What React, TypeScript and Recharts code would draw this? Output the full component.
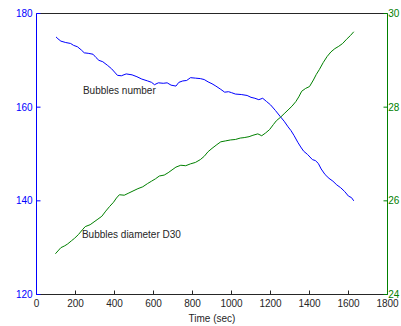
import React from "react"
import { LineChart, Line, XAxis, YAxis, ReferenceDot } from "recharts"

// time axis (sec) and the two measured series
const numberTime = [
  100, 110, 125, 150, 175, 190, 210, 230, 245, 265, 290, 305, 320, 340, 365, 385, 400, 415, 435, 460,
  490, 515, 540, 570, 590, 605, 625, 650, 670, 690, 715, 730, 750, 770, 790, 815, 840, 860, 880, 900,
  920, 945, 965, 985, 1000, 1020, 1050, 1080, 1100, 1120, 1140, 1160, 1180, 1200, 1225, 1250, 1270,
  1290, 1305, 1320, 1340, 1355, 1370, 1390, 1415, 1430, 1445, 1460, 1480, 1500, 1520, 1540, 1560,
  1580, 1600, 1615, 1627,
]
const numberValues = [
  175.0, 174.6, 174.1, 173.8, 173.6, 173.2, 172.9, 172.2, 171.6, 171.5, 171.3, 170.6, 170.0, 169.7,
  168.9, 168.2, 167.5, 166.8, 166.7, 167.1, 166.9, 166.5, 166.0, 165.6, 165.3, 164.8, 165.2, 165.1,
  165.2, 164.7, 164.5, 165.3, 165.6, 165.7, 166.3, 166.2, 166.1, 165.9, 165.4, 165.0, 164.5, 163.8,
  163.2, 163.3, 163.1, 162.8, 162.7, 162.5, 162.1, 161.9, 161.6, 161.9, 161.2, 160.5, 159.3, 158.0,
  157.0, 155.8, 155.0, 154.0, 152.5, 151.5, 150.6, 149.9, 148.8, 148.6, 148.0, 146.8, 145.6, 144.8,
  144.2, 143.4, 142.8, 142.0, 141.0, 140.7, 140.0,
]

const diameterTime = [
  97, 110, 125, 145, 160, 180, 195, 215, 235, 250, 275, 295, 315, 335, 355, 375, 395, 410, 425, 450,
  470, 495, 520, 545, 570, 590, 610, 630, 655, 675, 695, 715, 740, 765, 790, 815, 840, 860, 880, 900,
  925, 945, 970, 995, 1020, 1045, 1065, 1090, 1110, 1135, 1155, 1175, 1195, 1215, 1230, 1250, 1270,
  1290, 1310, 1330, 1345, 1360, 1380, 1400, 1420, 1435, 1450, 1470, 1490, 1510, 1530, 1550, 1570,
  1590, 1610, 1627,
]
const diameterValues = [
  24.87, 24.93, 25.0, 25.04, 25.08, 25.15, 25.2, 25.28, 25.38, 25.45, 25.49, 25.55, 25.61, 25.67,
  25.78, 25.88, 25.97, 26.06, 26.13, 26.12, 26.16, 26.21, 26.26, 26.3, 26.37, 26.42, 26.47, 26.53,
  26.55, 26.6, 26.66, 26.72, 26.76, 26.75, 26.79, 26.82, 26.88, 26.95, 27.05, 27.12, 27.2, 27.26,
  27.28, 27.3, 27.31, 27.34, 27.35, 27.37, 27.4, 27.43, 27.39, 27.45, 27.52, 27.63, 27.71, 27.78,
  27.86, 27.94, 28.02, 28.12, 28.22, 28.34, 28.4, 28.44, 28.58, 28.7, 28.8, 28.95, 29.08, 29.18,
  29.25, 29.3, 29.36, 29.45, 29.53, 29.61,
]

const timeTicks = [0, 200, 400, 600, 800, 1000, 1200, 1400, 1600, 1800]
const numberTicks = [120, 140, 160, 180]
const diameterTicks = [24, 26, 28, 30]

const numberData = numberTime.map((t, i) => ({ t, value: numberValues[i] }))
const diameterData = diameterTime.map((t, i) => ({ t, value: diameterValues[i] }))

const BLUE = "#0000ff"
const GREEN = "#008000"
const AXIS = "#262626"
const font = "'Liberation Sans', Arial, sans-serif"

export default function App() {
  return (
    <div style={{ position: "absolute", left: 0, top: 0, background: "#fff" }}>
      <LineChart
        width={401}
        height={326}
        margin={{ top: 0, right: 0, bottom: 0, left: 0 }}
        style={{ fontFamily: font }}
      >
        <XAxis
          xAxisId="bottom"
          dataKey="t"
          type="number"
          domain={[0, 1800]}
          ticks={timeTicks}
          interval={0}
          height={31.5}
          stroke={AXIS}
          tickSize={-4}
          tickMargin={9.3}
          tick={{ fill: AXIS, fontSize: 10 }}
          label={{ value: "Time (sec)", position: "insideBottom", offset: 4.5, fill: AXIS, fontSize: 10 }}
        />
        <XAxis
          xAxisId="top"
          orientation="top"
          dataKey="t"
          type="number"
          domain={[0, 1800]}
          ticks={timeTicks}
          interval={0}
          height={13.5}
          stroke={AXIS}
          tickSize={-4}
          tickFormatter={() => ""}
        />
        <YAxis
          yAxisId="left"
          type="number"
          domain={[120, 180]}
          ticks={numberTicks}
          interval={0}
          width={36.5}
          stroke={BLUE}
          tickSize={-4}
          tickMargin={7.8}
          tick={{ fill: BLUE, fontSize: 10 }}
        />
        <YAxis
          yAxisId="right"
          orientation="right"
          type="number"
          domain={[24, 30]}
          ticks={diameterTicks}
          interval={0}
          width={13.5}
          stroke={GREEN}
          tickSize={-4}
          tickMargin={4.8}
          tick={{ fill: GREEN, fontSize: 10 }}
        />
        <Line
          xAxisId="bottom"
          yAxisId="left"
          data={numberData}
          dataKey="value"
          type="linear"
          stroke={BLUE}
          strokeWidth={1}
          dot={false}
          isAnimationActive={false}
        />
        <Line
          xAxisId="bottom"
          yAxisId="right"
          data={diameterData}
          dataKey="value"
          type="linear"
          stroke={GREEN}
          strokeWidth={1}
          dot={false}
          isAnimationActive={false}
        />
        <ReferenceDot
          xAxisId="bottom"
          yAxisId="left"
          x={238}
          y={163.6}
          r={0}
          fill="none"
          stroke="none"
          label={{ value: "Bubbles number", position: "right", offset: 0, fill: AXIS, fontSize: 10 }}
        />
        <ReferenceDot
          xAxisId="bottom"
          yAxisId="right"
          x={233}
          y={25.29}
          r={0}
          fill="none"
          stroke="none"
          label={{ value: "Bubbles diameter D30", position: "right", offset: 0, fill: AXIS, fontSize: 10 }}
        />
      </LineChart>
    </div>
  )
}
